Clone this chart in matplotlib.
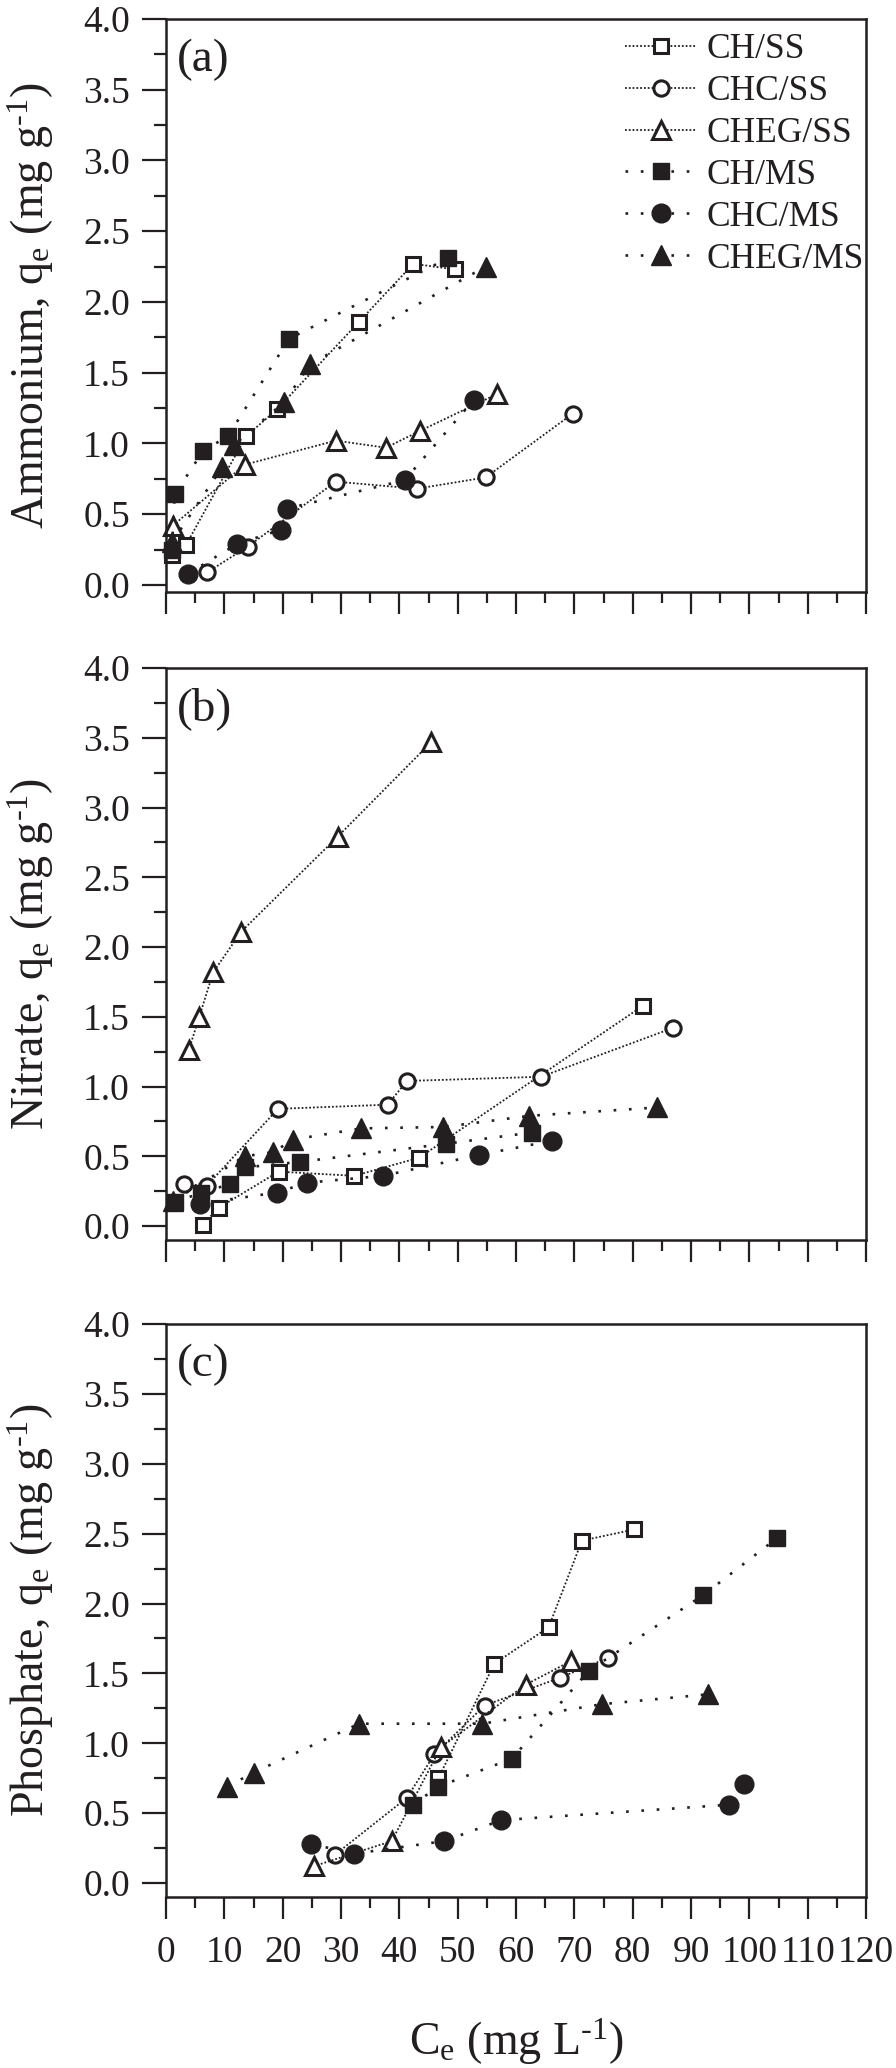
import matplotlib
matplotlib.use("Agg")
import matplotlib.pyplot as plt
from matplotlib.ticker import MultipleLocator, FormatStrFormatter

plt.rcParams['font.family'] = ['Liberation Serif', 'DejaVu Serif']
plt.rcParams['mathtext.fontset'] = 'custom'
plt.rcParams['mathtext.rm'] = 'Liberation Serif'
plt.rcParams['mathtext.it'] = 'Liberation Serif:italic'

INK = '#231f20'

# ---------------- data ----------------
series_names = ['CH/SS', 'CHC/SS', 'CHEG/SS', 'CH/MS', 'CHC/MS', 'CHEG/MS']

# (a) Ammonium
amm_ch_ss_x = [1.0, 3.4, 13.7, 19.0, 33.1, 42.4, 49.5]
amm_ch_ss_y = [0.21, 0.28, 1.05, 1.24, 1.86, 2.27, 2.23]
amm_chc_ss_x = [7.1, 14.0, 29.1, 43.0, 54.8, 69.7]
amm_chc_ss_y = [0.09, 0.27, 0.73, 0.68, 0.76, 1.21]
amm_cheg_ss_x = [1.2, 13.5, 29.1, 37.7, 43.6, 56.8]
amm_cheg_ss_y = [0.42, 0.85, 1.02, 0.97, 1.09, 1.35]
amm_ch_ms_x = [1.0, 1.5, 6.4, 10.6, 21.1, 48.4]
amm_ch_ms_y = [0.25, 0.64, 0.95, 1.05, 1.74, 2.31]
amm_chc_ms_x = [3.8, 12.2, 19.7, 20.8, 40.9, 52.8]
amm_chc_ms_y = [0.08, 0.29, 0.39, 0.54, 0.74, 1.31]
amm_cheg_ms_x = [1.0, 9.6, 11.7, 20.2, 24.7, 54.8]
amm_cheg_ms_y = [0.30, 0.83, 0.99, 1.29, 1.56, 2.25]

# (b) Nitrate
nit_ch_ss_x = [6.3, 9.0, 19.3, 32.3, 43.4, 81.8]
nit_ch_ss_y = [0.01, 0.13, 0.39, 0.36, 0.49, 1.58]
nit_chc_ss_x = [3.0, 7.0, 19.2, 38.0, 41.3, 64.3, 86.9]
nit_chc_ss_y = [0.30, 0.29, 0.84, 0.87, 1.04, 1.07, 1.42]
nit_cheg_ss_x = [3.9, 5.7, 8.1, 12.9, 29.4, 45.5]
nit_cheg_ss_y = [1.26, 1.50, 1.82, 2.11, 2.79, 3.47]
nit_ch_ms_x = [1.6, 6.0, 11.0, 13.5, 23.0, 48.0, 62.7]
nit_ch_ms_y = [0.17, 0.24, 0.30, 0.42, 0.46, 0.59, 0.67]
nit_chc_ms_x = [5.8, 19.0, 24.1, 37.2, 53.7, 66.1]
nit_chc_ms_y = [0.16, 0.24, 0.31, 0.36, 0.51, 0.61]
nit_cheg_ms_x = [1.2, 13.5, 18.4, 21.8, 33.5, 47.5, 62.3, 84.2]
nit_cheg_ms_y = [0.18, 0.50, 0.53, 0.62, 0.70, 0.71, 0.79, 0.85]

# (c) Phosphate
pho_ch_ss_x = [46.7, 56.3, 65.6, 71.3, 80.3]
pho_ch_ss_y = [0.75, 1.57, 1.83, 2.45, 2.53]
pho_chc_ss_x = [28.9, 41.3, 46.0, 54.6, 67.6, 75.7]
pho_chc_ss_y = [0.20, 0.61, 0.92, 1.27, 1.47, 1.61]
pho_cheg_ss_x = [25.3, 38.7, 47.1, 61.7, 69.5]
pho_cheg_ss_y = [0.12, 0.30, 0.97, 1.42, 1.59]
pho_ch_ms_x = [42.3, 46.7, 59.3, 72.5, 92.1, 104.8]
pho_ch_ms_y = [0.56, 0.69, 0.89, 1.52, 2.06, 2.47]
pho_chc_ms_x = [24.8, 32.3, 47.7, 57.5, 96.5, 99.1]
pho_chc_ms_y = [0.28, 0.21, 0.30, 0.45, 0.56, 0.71]
pho_cheg_ms_x = [10.5, 15.0, 33.1, 54.2, 74.8, 92.9]
pho_cheg_ms_y = [0.69, 0.79, 1.14, 1.14, 1.28, 1.35]

panel_tags = ['(a)', '(b)', '(c)']
y_labels = [r'Ammonium, q$_\mathregular{e}$ (mg g$^{\text{-1}}$)',
            r'Nitrate, q$_\mathregular{e}$ (mg g$^{\text{-1}}$)',
            r'Phosphate, q$_\mathregular{e}$ (mg g$^{\text{-1}}$)']
x_label = r'C$_\mathregular{e}$ (mg L$^{\text{-1}}$)'

panels = [
    [(amm_ch_ss_x, amm_ch_ss_y), (amm_chc_ss_x, amm_chc_ss_y), (amm_cheg_ss_x, amm_cheg_ss_y),
     (amm_ch_ms_x, amm_ch_ms_y), (amm_chc_ms_x, amm_chc_ms_y), (amm_cheg_ms_x, amm_cheg_ms_y)],
    [(nit_ch_ss_x, nit_ch_ss_y), (nit_chc_ss_x, nit_chc_ss_y), (nit_cheg_ss_x, nit_cheg_ss_y),
     (nit_ch_ms_x, nit_ch_ms_y), (nit_chc_ms_x, nit_chc_ms_y), (nit_cheg_ms_x, nit_cheg_ms_y)],
    [(pho_ch_ss_x, pho_ch_ss_y), (pho_chc_ss_x, pho_chc_ss_y), (pho_cheg_ss_x, pho_cheg_ss_y),
     (pho_ch_ms_x, pho_ch_ms_y), (pho_chc_ms_x, pho_chc_ms_y), (pho_cheg_ms_x, pho_cheg_ms_y)],
]

# ---------------- styles ----------------
styles = [
    dict(marker='s', ms=10, mfc='white', mec=INK, mew=2.2, lw=1.3, dashes=(1, 1.1)),
    dict(marker='o', ms=11, mfc='white', mec=INK, mew=2.2, lw=1.3, dashes=(1, 1.1)),
    dict(marker='^', ms=13, mfc='white', mec=INK, mew=2.2, lw=1.3, dashes=(1, 1.1)),
    dict(marker='s', ms=11.5, mfc=INK, mec=INK, mew=1.0, lw=1.9, dashes=(1, 4.8)),
    dict(marker='o', ms=13.5, mfc=INK, mec=INK, mew=1.0, lw=1.9, dashes=(1, 4.8)),
    dict(marker='^', ms=15, mfc=INK, mec=INK, mew=1.0, lw=1.9, dashes=(1, 4.8)),
]

W, H = 896, 2068
fig = plt.figure(figsize=(W / 100, H / 100), dpi=100)

left = 166 / W
width = 700 / W
boxes = [(19, 592), (668, 1240), (1324, 1897)]
ylows = [-0.05, -0.1, -0.1]

for i, (top_px, bot_px) in enumerate(boxes):
    ax = fig.add_axes([left, 1 - bot_px / H, width, (bot_px - top_px) / H])
    for (xs, ys), name, st in zip(panels[i], series_names, styles):
        ax.plot(xs, ys, color=INK, linestyle=(0, st['dashes']), lw=st['lw'],
                marker=st['marker'], ms=st['ms'], mfc=st['mfc'], mec=st['mec'],
                mew=st['mew'], label=name, clip_on=False)
    ax.set_xlim(0, 120)
    ax.set_ylim(ylows[i], 4.0)
    ax.xaxis.set_major_locator(MultipleLocator(10))
    ax.xaxis.set_minor_locator(MultipleLocator(5))
    ax.yaxis.set_major_locator(MultipleLocator(0.5))
    ax.yaxis.set_minor_locator(MultipleLocator(0.25))
    ax.yaxis.set_major_formatter(FormatStrFormatter('%.1f'))
    ax.tick_params(axis='y', which='major', direction='out', length=17, width=1.6,
                   labelsize=27, pad=9, colors=INK)
    ax.tick_params(axis='y', which='minor', direction='out', length=8.5, width=1.6, colors=INK)
    ax.tick_params(axis='x', which='major', direction='out', length=16, width=1.6,
                   labelsize=27, pad=12, colors=INK)
    ax.tick_params(axis='x', which='minor', direction='out', length=8, width=1.6, colors=INK)
    ax.tick_params(top=False, right=False, which='both')
    if i < 2:
        ax.tick_params(axis='x', labelbottom=False)
    for sp in ax.spines.values():
        sp.set_linewidth(1.8)
        sp.set_color(INK)
    ax.text(11 / 700, 1 - 41 / 573, panel_tags[i], transform=ax.transAxes,
            ha='left', va='center', fontsize=34, color=INK)
    fig.text(31 / W, 1 - ((top_px + bot_px) / 2) / H, y_labels[i], rotation=90,
             ha='center', va='center', fontsize=33, color=INK)
    if i == 0:
        leg = ax.legend(loc='upper left', bbox_to_anchor=(0.656, 0.975), frameon=False,
                        fontsize=25.5, handlelength=2.0, handletextpad=0.3,
                        labelspacing=0.25, borderpad=0, borderaxespad=0, numpoints=1)
        for t in leg.get_texts():
            t.set_color(INK)

fig.text(516 / W, 1 - 2042 / H, x_label, ha='center', va='center', fontsize=33, color=INK)

fig.savefig('out.png', dpi=100)
